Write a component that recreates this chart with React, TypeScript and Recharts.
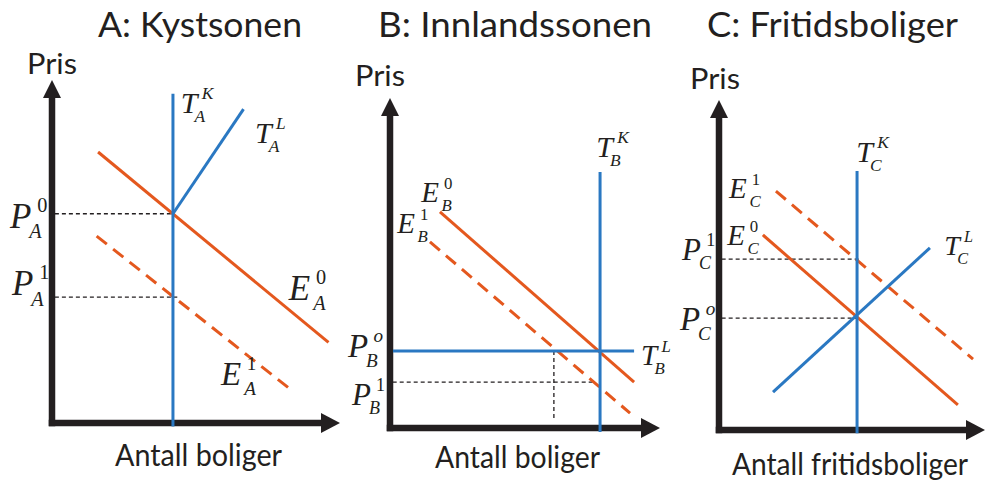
import React from 'react';
import { LineChart, Line, XAxis, YAxis, ReferenceLine, ReferenceDot } from 'recharts';

// ---------- Panel A: Kystsonen ----------
const A_E0 = [{ q: 1.6, p: 7.9 }, { q: 9.6, p: 2.35 }];
const A_E1 = [{ q: 1.55, p: 5.45 }, { q: 8.25, p: 1.0 }];
const A_TK = [{ q: 4.2, p: 9.6 }, { q: 4.2, p: -0.1 }];
const A_TL = [{ q: 4.2, p: 6.1 }, { q: 6.65, p: 9.15 }];
const A_P = [{ p: 6.1, q: 4.2 }, { p: 3.67, q: 4.35 }];

// ---------- Panel B: Innlandssonen ----------
const B_E0 = [{ q: 1.85, p: 6.55 }, { q: 9.04, p: 1.39 }];
const B_E1 = [{ q: 1.48, p: 5.64 }, { q: 8.89, p: 0.45 }];
const B_TK = [{ q: 7.78, p: 7.76 }, { q: 7.78, p: -0.12 }];
const B_TL = [{ q: 0.11, p: 2.33 }, { q: 9.04, p: 2.33 }];
const B_P1 = [{ p: 1.39, q: 7.59 }];
const B_Q1 = [{ q: 6.07, pTop: 2.33, pBottom: 0.24 }];

// ---------- Panel C: Fritidsboliger ----------
const C_E0 = [{ q: 1.65, p: 5.91 }, { q: 8.98, p: 0.76 }];
const C_E1 = [{ q: 2.14, p: 7.24 }, { q: 9.55, p: 2.15 }];
const C_TK = [{ q: 5.19, p: 7.85 }, { q: 5.19, p: -0.1 }];
const C_TL = [{ q: 2.03, p: 1.15 }, { q: 7.93, p: 5.52 }];
const C_P = [{ p: 5.18, q: 5.3 }, { p: 3.39, q: 5.19 }];

const TITLES = ['A: Kystsonen', 'B: Innlandssonen', 'C: Fritidsboliger'];
const Y_TITLE = 'Pris';
const X_TITLES = ['Antall boliger', 'Antall boliger', 'Antall fritidsboliger'];

const ORANGE = '#E4581E';
const BLUE = '#2A78C2';
const INK = '#231F20';
const SANS = "Lato, 'Open Sans', 'Noto Sans', sans-serif";
const SERIF = "'Liberation Serif', 'DejaVu Serif', serif";

const OFF: Record<string, { sup: number; sub: number }> = {
  T: { sup: 0.7, sub: 0.46 },
  E: { sup: 0.78, sub: 0.7 },
  P: { sup: 0.78, sub: 0.55 },
};

const mathShape = (base: string, sup: string, sub: string, s: number) => (props: any) => {
  const { cx, cy } = props;
  const o = OFF[base];
  const small = s * 0.58;
  const supItalic = /[A-Za-z]/.test(sup);
  return (
    <g>
      <text x={cx} y={cy} fontFamily={SERIF} fontStyle="italic" fontSize={s} fill={INK}>{base}</text>
      <text x={cx + o.sup * s} y={cy - 0.46 * s} fontFamily={SERIF} fontStyle={supItalic ? 'italic' : 'normal'} fontSize={small} fill={INK}>{sup}</text>
      <text x={cx + o.sub * s} y={cy + 0.3 * s} fontFamily={SERIF} fontStyle="italic" fontSize={small} fill={INK}>{sub}</text>
    </g>
  );
};

const yArrow = (props: any) => {
  const { cx, cy } = props;
  return <polygon points={`${cx},${cy} ${cx - 9},${cy + 18} ${cx + 9},${cy + 18}`} fill={INK} />;
};
const xArrow = (props: any) => {
  const { cx, cy } = props;
  return <polygon points={`${cx},${cy} ${cx - 19},${cy - 10} ${cx - 19},${cy + 10}`} fill={INK} />;
};

type Lbl = { base: string; sup: string; sub: string; q: number; p: number; s: number };

const A_LABELS: Lbl[] = [
  { base: 'T', sup: 'K', sub: 'A', q: 4.47, p: 9.04, s: 30 },
  { base: 'T', sup: 'L', sub: 'A', q: 7.05, p: 8.16, s: 30 },
  { base: 'P', sup: '0', sub: 'A', q: -1.46, p: 5.69, s: 35 },
  { base: 'P', sup: '1', sub: 'A', q: -1.39, p: 3.73, s: 35 },
  { base: 'E', sup: '0', sub: 'A', q: 8.22, p: 3.59, s: 35 },
  { base: 'E', sup: '1', sub: 'A', q: 5.87, p: 1.11, s: 33 },
];
const B_LABELS: Lbl[] = [
  { base: 'T', sup: 'K', sub: 'B', q: 7.64, p: 8.21, s: 30 },
  { base: 'T', sup: 'L', sub: 'B', q: 9.3, p: 1.91, s: 29 },
  { base: 'E', sup: '0', sub: 'B', q: 1.16, p: 6.85, s: 29 },
  { base: 'E', sup: '1', sub: 'B', q: 0.27, p: 5.91, s: 29 },
  { base: 'P', sup: 'o', sub: 'B', q: -1.56, p: 2.15, s: 33 },
  { base: 'P', sup: '1', sub: 'B', q: -1.41, p: 0.7, s: 31 },
];
const C_LABELS: Lbl[] = [
  { base: 'T', sup: 'K', sub: 'C', q: 5.16, p: 8.12, s: 30 },
  { base: 'T', sup: 'L', sub: 'C', q: 8.47, p: 5.3, s: 28 },
  { base: 'E', sup: '1', sub: 'C', q: 0.38, p: 7.03, s: 29 },
  { base: 'E', sup: '0', sub: 'C', q: 0.31, p: 5.61, s: 29 },
  { base: 'P', sup: '1', sub: 'C', q: -1.39, p: 5.15, s: 31 },
  { base: 'P', sup: 'o', sub: 'C', q: -1.47, p: 3.03, s: 33 },
];

type Layout = { ox: number; oy: number; sx: number; sy: number };
type Seg = { a: { x: number; y: number }; b: { x: number; y: number } };
type Series = { data: { q: number; p: number }[]; color: string; dashed?: boolean };

const W = 985;
const H = 481;
const YMIN = -0.15;

function Panel({ layout, series, guides, labels }: { layout: Layout; series: Series[]; guides: Seg[]; labels: Lbl[] }) {
  const { ox, oy, sx, sy } = layout;
  const margin = {
    left: ox,
    right: W - (ox + 10 * sx),
    top: oy - 10 * sy,
    bottom: H - (oy - YMIN * sy),
  };
  return (
    <div style={{ position: 'absolute', left: 0, top: 0 }}>
      <LineChart width={W} height={H} margin={margin}>
        <XAxis type="number" dataKey="q" domain={[0, 10]} hide />
        <YAxis type="number" dataKey="p" domain={[YMIN, 10]} hide />
        {guides.map((g, i) => (
          <ReferenceLine key={'g' + i} segment={[g.a, g.b]} stroke={INK} strokeWidth={1.3} strokeDasharray="4 3" ifOverflow="visible" />
        ))}
        <ReferenceLine segment={[{ x: 0, y: 0 }, { x: 0, y: 9.6 }]} stroke={INK} strokeWidth={6.5} strokeLinecap="square" ifOverflow="visible" />
        <ReferenceLine segment={[{ x: 0, y: 0 }, { x: 9.5, y: 0 }]} stroke={INK} strokeWidth={6.5} strokeLinecap="square" ifOverflow="visible" />
        <ReferenceDot x={0} y={10} r={1} shape={yArrow} ifOverflow="visible" />
        <ReferenceDot x={10} y={0} r={1} shape={xArrow} ifOverflow="visible" />
        {series.map((s, i) => (
          <Line
            key={'s' + i}
            data={s.data}
            dataKey="p"
            type="linear"
            stroke={s.color}
            strokeWidth={3}
            strokeDasharray={s.dashed ? '13 8' : undefined}
            dot={false}
            activeDot={false}
            isAnimationActive={false}
          />
        ))}
        {labels.map((l, i) => (
          <ReferenceDot key={'l' + i} x={l.q} y={l.p} r={1} shape={mathShape(l.base, l.sup, l.sub, l.s)} ifOverflow="visible" />
        ))}
      </LineChart>
    </div>
  );
}

const hguide = (p: number, q: number): Seg => ({ a: { x: 0.1, y: p }, b: { x: q, y: p } });

export default function App() {
  const layoutA: Layout = { ox: 52, oy: 423, sx: 28.8, sy: 34.3 };
  const layoutB: Layout = { ox: 390, oy: 428, sx: 27, sy: 33 };
  const layoutC: Layout = { ox: 719, oy: 430, sx: 26.6, sy: 33 };

  const guidesA = A_P.map((g) => hguide(g.p, g.q));
  const guidesB = [
    ...B_P1.map((g) => hguide(g.p, g.q)),
    ...B_Q1.map((g) => ({ a: { x: g.q, y: g.pTop }, b: { x: g.q, y: g.pBottom } })),
  ];
  const guidesC = C_P.map((g) => hguide(g.p, g.q));

  const textStyle = { fontFamily: SANS, fill: INK } as const;

  return (
    <div style={{ position: 'absolute', left: 0, top: 0, width: W, height: H, background: '#fff', overflow: 'hidden' }}>
      <Panel
        layout={layoutA}
        guides={guidesA}
        series={[
          { data: A_E0, color: ORANGE },
          { data: A_E1, color: ORANGE, dashed: true },
          { data: A_TK, color: BLUE },
          { data: A_TL, color: BLUE },
        ]}
        labels={A_LABELS}
      />
      <Panel
        layout={layoutB}
        guides={guidesB}
        series={[
          { data: B_E0, color: ORANGE },
          { data: B_E1, color: ORANGE, dashed: true },
          { data: B_TK, color: BLUE },
          { data: B_TL, color: BLUE },
        ]}
        labels={B_LABELS}
      />
      <Panel
        layout={layoutC}
        guides={guidesC}
        series={[
          { data: C_E0, color: ORANGE },
          { data: C_E1, color: ORANGE, dashed: true },
          { data: C_TK, color: BLUE },
          { data: C_TL, color: BLUE },
        ]}
        labels={C_LABELS}
      />
      <svg width={W} height={H} style={{ position: 'absolute', left: 0, top: 0, pointerEvents: 'none' }}>
        <text x={98} y={37} fontSize={35} textLength={204} lengthAdjust="spacingAndGlyphs" {...textStyle}>{TITLES[0]}</text>
        <text x={378} y={37} fontSize={35} textLength={274} lengthAdjust="spacingAndGlyphs" {...textStyle}>{TITLES[1]}</text>
        <text x={707} y={37} fontSize={35} textLength={251} lengthAdjust="spacingAndGlyphs" {...textStyle}>{TITLES[2]}</text>
        <text x={27} y={74} fontSize={29} textLength={50} lengthAdjust="spacingAndGlyphs" {...textStyle}>{Y_TITLE}</text>
        <text x={355} y={86} fontSize={29} textLength={50} lengthAdjust="spacingAndGlyphs" {...textStyle}>{Y_TITLE}</text>
        <text x={690} y={89} fontSize={29} textLength={50} lengthAdjust="spacingAndGlyphs" {...textStyle}>{Y_TITLE}</text>
        <text x={115} y={466} fontSize={30} textLength={167} lengthAdjust="spacingAndGlyphs" {...textStyle}>{X_TITLES[0]}</text>
        <text x={435} y={468} fontSize={30} textLength={165} lengthAdjust="spacingAndGlyphs" {...textStyle}>{X_TITLES[1]}</text>
        <text x={732} y={475} fontSize={30} textLength={236} lengthAdjust="spacingAndGlyphs" {...textStyle}>{X_TITLES[2]}</text>
      </svg>
    </div>
  );
}
